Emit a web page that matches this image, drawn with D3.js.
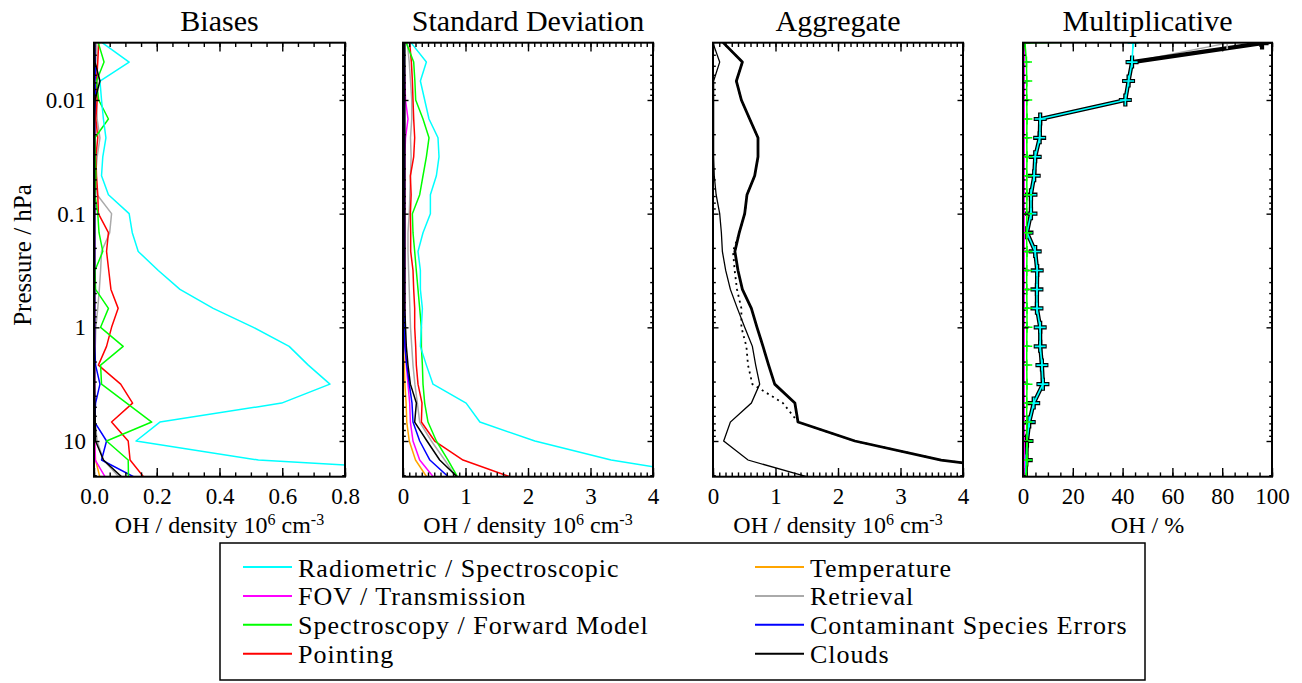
<!DOCTYPE html>
<html><head><meta charset="utf-8">
<script src="https://cdn.jsdelivr.net/npm/d3@7"></script>
<style>
body{margin:0;background:#fff;}
text{font-family:"Liberation Serif","Times New Roman",serif;fill:#000;}
</style></head>
<body><svg id="c" width="1302" height="683"></svg>
<script>
// pressure levels (hPa), first one lies above the plotted range
const pressure = [0.00215,0.00316,0.00464,0.00681,0.01,0.0147,0.0215,0.0316,0.0464,0.0681,0.1,0.147,0.215,0.316,0.464,0.681,1.0,1.47,2.15,3.16,4.64,6.81,10.0,14.7,21.5];

const seriesNames = ["Radiometric / Spectroscopic","FOV / Transmission","Spectroscopy / Forward Model","Pointing","Temperature","Retrieval","Contaminant Species Errors","Clouds"];
const seriesColors = ["#00ffff","#ff00ff","#00ff00","#ff0000","#ffa500","#aaaaaa","#0000ff","#000000"];

// Biases (OH density 1e6 cm-3)
const biasRadiometric = [0.02,0.028,0.112,0.019,0.024,0.03,0.038,0.028,0.024,0.046,0.112,0.122,0.141,0.205,0.274,0.38,0.508,0.622,0.683,0.752,0.598,0.21,0.134,0.524,1.55];
const biasFOV         = [0.002,0.002,0.002,0.002,0.003,0.002,0.002,0.003,0.002,0.002,0.002,0.002,0.002,0.002,0.002,0.002,0.002,0.002,0.002,0.002,0.002,0.002,0.003,0.004,0.039];
const biasSpectroscopy= [0.01,0.014,0.032,0.008,0.015,0.046,0.003,0.004,0.006,0.003,0.012,0.016,0.028,0.003,0.005,0.046,0.021,0.093,0.021,0.024,0.104,0.184,0.04,0.109,0.11];
const biasPointing    = [0.015,0.015,0.012,0.008,0.01,0.006,0.012,0.006,0.008,0.012,0.014,0.046,0.04,0.047,0.054,0.077,0.056,0.04,0.014,0.085,0.123,0.056,0.109,0.115,0.163];
const biasTemperature = [0.001,0.001,0.001,0.001,0.001,0.001,0.001,0.001,0.001,0.001,0.001,0.001,0.001,0.001,0.001,0.001,0.001,0.001,0.001,0.001,0.001,0.001,0.002,0.005,0.02];
const biasRetrieval   = [0.008,0.008,0.01,0.012,0.008,0.01,0.019,0.01,0.005,0.01,0.056,0.05,0.024,0.021,0.017,0.012,0.006,0.004,0.003,0.003,0.003,0.004,0.01,0.03,0.085];
const biasContaminant = [0.002,0.002,0.004,0.006,0.004,0.002,0.002,0.002,0.002,0.002,0.002,0.002,0.002,0.002,0.002,0.002,0.002,0.002,0.005,0.019,0.005,0.002,0.04,0.024,0.139];
const biasClouds      = [0.002,0.002,0.003,0.019,0.003,0.002,0.002,0.002,0.002,0.002,0.002,0.002,0.002,0.002,0.002,0.002,0.002,0.002,0.002,0.002,0.003,0.004,0.005,0.03,0.095];

// Standard deviation (OH density 1e6 cm-3)
const sdRadiometric = [0.1,0.134,0.374,0.278,0.347,0.416,0.56,0.576,0.534,0.438,0.438,0.32,0.24,0.278,0.278,0.31,0.294,0.278,0.374,0.48,1.01,1.23,2.11,3.33,5.2];
const sdFOV         = [0.02,0.02,0.02,0.03,0.04,0.08,0.04,0.03,0.03,0.03,0.03,0.03,0.03,0.03,0.03,0.03,0.03,0.035,0.053,0.08,0.107,0.118,0.16,0.267,0.51];
const sdSpectroscopy= [0.04,0.054,0.171,0.19,0.203,0.32,0.416,0.374,0.32,0.267,0.15,0.16,0.187,0.213,0.24,0.267,0.294,0.294,0.31,0.32,0.347,0.4,0.534,0.72,0.89];
const sdPointing    = [0.1,0.107,0.134,0.15,0.16,0.171,0.187,0.171,0.118,0.13,0.118,0.123,0.123,0.16,0.171,0.187,0.187,0.203,0.213,0.24,0.304,0.294,0.507,0.96,1.8];
const sdTemperature = [0.01,0.01,0.01,0.01,0.01,0.01,0.01,0.01,0.01,0.01,0.01,0.01,0.01,0.01,0.01,0.01,0.01,0.01,0.02,0.03,0.05,0.06,0.1,0.2,0.4];
const sdRetrieval   = [0.06,0.07,0.1,0.12,0.14,0.14,0.12,0.13,0.12,0.11,0.1,0.08,0.08,0.09,0.1,0.11,0.12,0.14,0.16,0.19,0.23,0.267,0.454,0.667,0.87];
const sdContaminant = [0.02,0.02,0.02,0.02,0.02,0.02,0.02,0.02,0.02,0.02,0.02,0.02,0.02,0.02,0.02,0.02,0.02,0.03,0.06,0.1,0.144,0.16,0.267,0.43,0.76];
const sdClouds      = [0.03,0.03,0.03,0.03,0.03,0.03,0.03,0.03,0.03,0.03,0.03,0.03,0.03,0.03,0.03,0.03,0.04,0.053,0.08,0.118,0.214,0.187,0.384,0.587,0.9];

// Aggregate (OH density 1e6 cm-3)
const aggBias  = [0.0,0.0,0.107,0.01,0.01,0.01,0.01,0.01,0.02,0.05,0.107,0.134,0.15,0.203,0.278,0.39,0.507,0.63,0.683,0.747,0.614,0.278,0.171,0.56,1.62];
const aggSD    = [0.1,0.171,0.47,0.374,0.454,0.587,0.72,0.72,0.667,0.544,0.507,0.42,0.32,0.347,0.384,0.454,0.454,0.534,0.56,0.63,1.12,1.36,2.27,3.65,6.0];
const aggTotal = [0.1,0.171,0.47,0.374,0.454,0.587,0.72,0.72,0.667,0.544,0.507,0.42,0.35,0.40,0.47,0.614,0.704,0.8,0.89,0.987,1.31,1.36,2.27,3.65,6.0];

// Multiplicative (OH %)
const multRadiometric = [44.2,44.2,43.8,42.4,41.1,6.9,6.7,4.9,4.5,3.2,3.2,1.6,4.9,5.7,5.6,5.6,6.9,6.9,7.6,8.0,4.3,2.5,1.6,1.3,1.0];
const multFOV         = [0.4,0.4,0.4,0.4,0.4,0.4,0.4,0.4,0.4,0.4,0.4,0.4,0.4,0.4,0.4,0.4,0.4,0.4,0.4,0.4,0.4,0.4,0.4,0.4,0.4];
const multSpectroscopy= [400,0.8,1.4,1.5,1.5,1.6,1.5,1.6,1.5,1.6,1.5,1.4,1.6,1.5,1.5,1.6,1.6,1.5,1.5,1.6,1.5,1.5,1.6,1.6,1.2];
const multPointing    = [0.3,0.3,0.3,0.3,0.3,0.3,0.3,0.3,0.3,0.3,0.3,0.3,0.3,0.3,0.3,0.3,0.3,0.3,0.3,0.3,0.3,0.3,0.3,0.3,0.3];
const multTemperature = [0.2,0.2,0.2,0.2,0.2,0.2,0.2,0.2,0.2,0.2,0.2,0.2,0.2,0.2,0.2,0.2,0.2,0.2,0.2,0.2,0.2,0.2,0.2,0.2,0.2];
const multRetrieval   = [150,82,43.8,42.4,41.1,6.9,6.7,4.9,4.5,3.2,3.2,1.6,4.9,5.7,5.6,5.6,6.9,6.9,7.6,8.0,4.3,2.5,1.6,1.3,1.0];
const multContaminant = [0.3,0.3,0.3,0.3,0.3,0.3,0.3,0.3,0.3,0.3,0.3,0.3,0.3,0.3,0.3,0.3,0.3,0.3,0.3,0.3,0.3,0.3,0.3,0.3,0.3];
const multClouds      = [150,96,43.8,42.4,41.1,6.9,6.7,4.9,4.5,3.2,3.2,1.6,4.9,5.7,5.6,5.6,6.9,6.9,7.6,8.0,4.3,2.5,1.6,1.3,1.0];

const panelTitles = ["Biases","Standard Deviation","Aggregate","Multiplicative"];
const biasTicks = [0.0,0.2,0.4,0.6,0.8];
const densTicks = [0,1,2,3,4];
const pctTicks = [0,20,40,60,80,100];
const pressureTicks = [0.01,0.1,1,10];
const pressureTickLabels = ["0.01","0.1","1","10"];

const biasData = [biasRadiometric,biasFOV,biasSpectroscopy,biasPointing,biasTemperature,biasRetrieval,biasContaminant,biasClouds];
const sdData = [sdRadiometric,sdFOV,sdSpectroscopy,sdPointing,sdTemperature,sdRetrieval,sdContaminant,sdClouds];
const multData = [multRadiometric,multFOV,multSpectroscopy,multPointing,multTemperature,multRetrieval,multContaminant,multClouds];

const FONT = "'Liberation Serif','Times New Roman',serif";
const svg = d3.select("#c");
const top_ = 42.7, bot = 476.7;
const y = d3.scaleLog().domain([Math.pow(10,-2.504), Math.pow(10,1.314)]).range([top_, bot]);

const panels = [
  {x0:94, x1:345, dom:[0,0.8], major:biasTicks, minorStep:0.05, fmt:d3.format(".1f"), xlabel:"dens"},
  {x0:403, x1:653, dom:[0,4], major:densTicks, minorStep:0.1, fmt:d3.format("d"), xlabel:"dens"},
  {x0:713, x1:963, dom:[0,4], major:densTicks, minorStep:0.1, fmt:d3.format("d"), xlabel:"dens"},
  {x0:1023, x1:1272, dom:[0,100], major:pctTicks, minorStep:5, fmt:d3.format("d"), xlabel:"pct"}
];

// y minor ticks (log 2..9)
const yMinor = [];
[0.001,0.01,0.1,1,10].forEach(d=>{for(let k=2;k<=9;k++){const v=d*k; if(v>=y.domain()[0]&&v<=y.domain()[1]) yMinor.push(v);}});

function toPts(arr){return arr.map((v,i)=>({v:v,p:pressure[i]}));}

panels.forEach((P,pi)=>{
  const x = d3.scaleLinear().domain(P.dom).range([P.x0,P.x1]);
  const g = svg.append("g");
  const cid = "clip"+pi;
  svg.append("clipPath").attr("id",cid).append("rect")
    .attr("x",P.x0).attr("y",top_).attr("width",P.x1-P.x0).attr("height",bot-top_);
  const plot = g.append("g").attr("clip-path",`url(#${cid})`);
  const line = d3.line().defined(d=>d.v!=null).x(d=>x(d.v)).y(d=>y(d.p));

  if(pi<2){
    const data = pi===0?biasData:sdData;
    const order=[4,5,1,6,3,2,0,7];
    order.forEach(si=>{
      plot.append("path").attr("d",line(toPts(data[si]))).attr("fill","none")
        .attr("stroke",seriesColors[si]).attr("stroke-width",1.5).attr("stroke-linejoin","round");
    });
  } else if(pi===2){
    plot.append("path").attr("d",line(toPts(aggBias))).attr("fill","none").attr("stroke","#000").attr("stroke-width",1.3);
    plot.append("path").attr("d",line(toPts(aggSD))).attr("fill","none").attr("stroke","#000").attr("stroke-width",1.8).attr("stroke-dasharray","2,4");
    plot.append("path").attr("d",line(toPts(aggTotal))).attr("fill","none").attr("stroke","#000").attr("stroke-width",2.8).attr("stroke-linejoin","round");
  } else {
    const plus = "M-5.5,0H5.5M0,-5.5V5.5";
    const drawLine = (si,w)=>{
      plot.append("path").attr("d",line(toPts(multData[si]))).attr("fill","none")
        .attr("stroke",seriesColors[si]).attr("stroke-width",w).attr("stroke-linejoin","round");
    };
    const drawMarks = (si,mw,ms,filterFn)=>{
      const pts = toPts(multData[si]).filter(d=>d.v!=null).filter(filterFn||(()=>true));
      plot.selectAll(null).data(pts).enter().append("path")
        .attr("d",ms||plus).attr("transform",d=>`translate(${x(d.v)},${y(d.p)})`)
        .attr("fill","none").attr("stroke",seriesColors[si]).attr("stroke-width",mw);
    };
    [4,3,6].forEach(si=>{drawLine(si,1.5);drawMarks(si,1.5);});
    drawLine(5,1.5);
    drawLine(7,4.2); drawMarks(7,4.2,"M-6.5,0H6.5M0,-6.5V6.5");
    drawMarks(5,1.8,"M-6,0H6M0,-6V6",(d,i)=>i===1);
    drawLine(0,1.6); drawMarks(0,1.6);
    drawLine(1,2); drawMarks(1,1.5);
    drawLine(2,1.5); drawMarks(2,1.5);
  }

  // axes (ticks inward)
  const minorX = d3.range(P.dom[0], P.dom[1]+P.minorStep/2, P.minorStep).map(v=>+v.toFixed(4));
  const axes = [
    g.append("g").attr("transform",`translate(0,${bot})`).call(d3.axisBottom(x).tickValues(minorX).tickSize(-4.3).tickFormat("")),
    g.append("g").attr("transform",`translate(0,${bot})`).call(d3.axisBottom(x).tickValues(P.major).tickSize(-8.7).tickPadding(11).tickFormat(P.fmt)),
    g.append("g").attr("transform",`translate(0,${top_})`).call(d3.axisTop(x).tickValues(minorX).tickSize(-4.3).tickFormat("")),
    g.append("g").attr("transform",`translate(0,${top_})`).call(d3.axisTop(x).tickValues(P.major).tickSize(-8.7).tickFormat("")),
    g.append("g").attr("transform",`translate(${P.x0},0)`).call(d3.axisLeft(y).tickValues(yMinor).tickSize(-2.8).tickFormat("")),
    g.append("g").attr("transform",`translate(${P.x0},0)`).call(d3.axisLeft(y).tickValues(pressureTicks).tickSize(-5.5).tickPadding(8)
      .tickFormat((d,i)=>pi===0?pressureTickLabels[i]:"")),
    g.append("g").attr("transform",`translate(${P.x1},0)`).call(d3.axisRight(y).tickValues(yMinor).tickSize(-2.8).tickFormat("")),
    g.append("g").attr("transform",`translate(${P.x1},0)`).call(d3.axisRight(y).tickValues(pressureTicks).tickSize(-5.5).tickFormat(""))
  ];
  axes.forEach(a=>{
    a.attr("font-family",FONT);
    a.select(".domain").remove();
    a.selectAll("line").attr("stroke","#000").attr("stroke-width",1.4);
    a.selectAll("text").style("font-family",FONT).style("font-size","23px").attr("fill","#000");
  });
  g.append("rect").attr("x",P.x0).attr("y",top_).attr("width",P.x1-P.x0).attr("height",bot-top_)
    .attr("fill","none").attr("stroke","#000").attr("stroke-width",2);

  // title
  g.append("text").attr("x",(P.x0+P.x1)/2).attr("y",31).attr("text-anchor","middle")
    .style("font-size","30px").text(panelTitles[pi]);
  // x label
  const xl = g.append("text").attr("x",(P.x0+P.x1)/2).attr("y",533).attr("text-anchor","middle").style("font-size","24px");
  if(P.xlabel==="dens"){
    xl.append("tspan").text("OH / density 10");
    xl.append("tspan").attr("dy",-8).style("font-size","16px").text("6");
    xl.append("tspan").attr("dy",8).text(" cm");
    xl.append("tspan").attr("dy",-8).style("font-size","16px").text("-3");
  } else {
    xl.text("OH / %");
  }
});

// y axis title
svg.append("text").attr("transform","translate(31,255) rotate(-90)").attr("text-anchor","middle")
  .style("font-size","25px").text("Pressure / hPa");

// legend
const lg = svg.append("g");
lg.append("rect").attr("x",220).attr("y",543).attr("width",925).attr("height",137)
  .attr("fill","#fff").attr("stroke","#000").attr("stroke-width",1.5);
const legendCols = [[0,1,2,3],[4,5,6,7]];
const colX = [243,755];
legendCols.forEach((col,ci)=>{
  col.forEach((si,ri)=>{
    const yy = 567 + ri*28.9;
    lg.append("line").attr("x1",colX[ci]).attr("x2",colX[ci]+49).attr("y1",yy).attr("y2",yy)
      .attr("stroke",seriesColors[si]).attr("stroke-width",2);
    lg.append("text").attr("x",colX[ci]+55).attr("y",yy+9.5).style("font-size","26px")
      .style("letter-spacing","1px").text(seriesNames[si]);
  });
});
</script>
</body></html>
